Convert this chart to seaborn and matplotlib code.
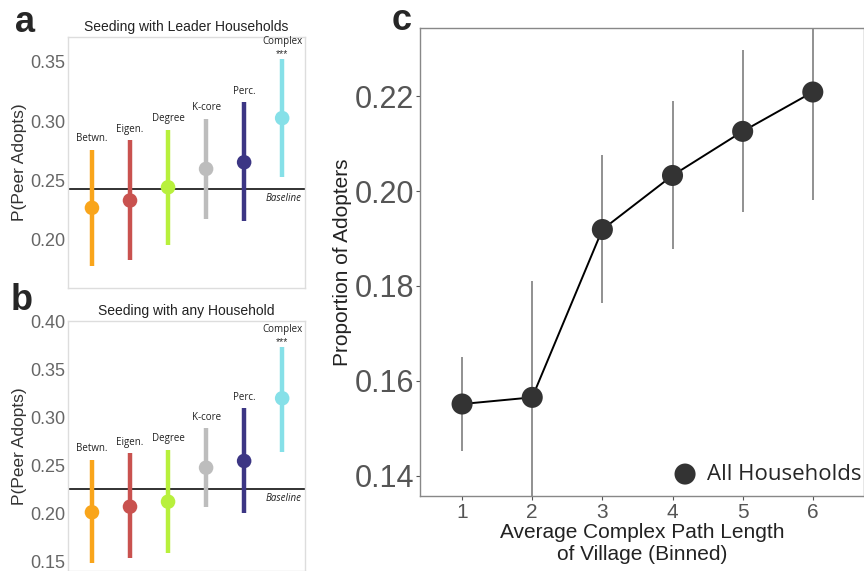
import numpy as np
import pandas as pd
import matplotlib
matplotlib.use("Agg")
import matplotlib.pyplot as plt
import seaborn as sns

# ---- data ----
methods = ["Betwn.", "Eigen.", "Degree", "K-core", "Perc.", "Complex"]
method_colors = ["#f9a51b", "#c9524f", "#b8f03c", "#bdbdbd", "#3c3684", "#86e0e8"]

# panel a: seeding with leader households
a_mean = [0.2267, 0.2329, 0.2441, 0.2596, 0.2652, 0.3025]
a_low = [0.1775, 0.1823, 0.1949, 0.2174, 0.2154, 0.2525]
a_high = [0.2758, 0.2837, 0.2927, 0.3017, 0.3157, 0.3523]
a_baseline = 0.2430

# panel b: seeding with any household
b_mean = [0.2015, 0.2073, 0.2125, 0.2479, 0.2549, 0.3202]
b_low = [0.1483, 0.1535, 0.1587, 0.2073, 0.2004, 0.2646]
b_high = [0.2559, 0.2629, 0.2664, 0.2889, 0.3098, 0.3740]
b_baseline = 0.2254

# panel c: proportion of adopters by path length bin
path_bins = [1, 2, 3, 4, 5, 6]
c_mean = [0.1551, 0.1565, 0.1919, 0.2033, 0.2126, 0.2209]
c_low = [0.1451, 0.1320, 0.1764, 0.1878, 0.1955, 0.1982]
c_high = [0.1650, 0.1810, 0.2077, 0.2191, 0.2297, 0.2450]

sns.set_style("white")
plt.rcParams["font.family"] = ["Liberation Sans", "DejaVu Sans"]

fig = plt.figure(figsize=(8.64, 5.71), dpi=100)

W, H = 864, 571


def px_axes(left, top, right, bottom):
    return fig.add_axes([left / W, 1 - bottom / H, (right - left) / W, (bottom - top) / H])


def method_panel(ax, mean, low, high, baseline, title, ylim, yticks):
    df = pd.DataFrame({"pos": np.arange(len(methods)), "mean": mean,
                       "low": low, "high": high, "method": methods})
    ax.vlines(df["pos"], df["low"], df["high"], colors=method_colors, linewidth=3.2, zorder=2)
    sns.scatterplot(data=df, x="pos", y="mean", hue="method", palette=method_colors,
                    s=110, edgecolor="none", legend=False, ax=ax, zorder=3)
    ax.axhline(baseline, color="#222222", linewidth=1.3, zorder=1)
    ax.text(5.5, baseline - 0.004, "Baseline", style="italic", fontsize=7,
            ha="right", va="top", family="Open Sans", color="#222222")
    for i, m in enumerate(methods):
        if m == "Complex":
            ax.annotate("***", (i, high[i]), xytext=(0, 0), textcoords="offset points",
                        ha="center", va="bottom", fontsize=7.5, color="#333333")
            ax.annotate(m, (i, high[i]), xytext=(0, 8.5), textcoords="offset points",
                        ha="center", va="bottom", fontsize=7, family="Open Sans",
                        color="#222222")
        else:
            ax.annotate(m, (i, high[i]), xytext=(0, 4), textcoords="offset points",
                        ha="center", va="bottom", fontsize=7, family="Open Sans",
                        color="#222222")
    ax.set_xlim(-0.63, 5.6)
    ax.set_ylim(*ylim)
    ax.set_yticks(yticks)
    ax.set_yticklabels([f"{t:.2f}" for t in yticks])
    ax.set_xticks([])
    ax.set_xlabel("")
    ax.set_ylabel("P(Peer Adopts)", fontsize=12.5, color="#333333", labelpad=2)
    ax.tick_params(axis="y", labelsize=13, colors="#666666", length=0, pad=2)
    ax.set_title(title, fontsize=10, color="#222222", pad=4)
    for sp in ax.spines.values():
        sp.set_color("#dddddd")
        sp.set_linewidth(1.0)


ax_a = px_axes(68, 37, 305, 288)
method_panel(ax_a, a_mean, a_low, a_high, a_baseline, "Seeding with Leader Households",
             (0.159, 0.371), [0.20, 0.25, 0.30, 0.35])

ax_b = px_axes(68, 321, 305, 571)
method_panel(ax_b, b_mean, b_low, b_high, b_baseline, "Seeding with any Household",
             (0.1403, 0.4007), [0.15, 0.20, 0.25, 0.30, 0.35, 0.40])

# panel c
ax_c = px_axes(420, 28, 864, 496)
dfc = pd.DataFrame({"bin": path_bins, "mean": c_mean, "low": c_low, "high": c_high})
ax_c.vlines(dfc["bin"], dfc["low"], dfc["high"], colors="#888888", linewidth=1.3, zorder=1)
sns.lineplot(data=dfc, x="bin", y="mean", color="black", linewidth=1.4, ax=ax_c, zorder=2)
sns.scatterplot(data=dfc, x="bin", y="mean", color="#333333", s=230, edgecolor="none",
                ax=ax_c, zorder=3, label="All Households")
ax_c.set_xlim(0.4, 6.73)
ax_c.set_ylim(0.1357, 0.2344)
ax_c.set_xticks(path_bins)
ax_c.set_yticks([0.14, 0.16, 0.18, 0.20, 0.22])
ax_c.set_yticklabels(["0.14", "0.16", "0.18", "0.20", "0.22"])
ax_c.tick_params(axis="y", labelsize=22, colors="#555555", length=3, width=0.8,
                 direction="out", left=True, pad=1)
ax_c.tick_params(axis="x", labelsize=15, colors="#555555", length=3, width=0.8,
                 direction="out", bottom=True, pad=2)
ax_c.set_xlabel("Average Complex Path Length\nof Village (Binned)", fontsize=15,
                color="#222222", linespacing=1.15, labelpad=1)
ax_c.set_ylabel("Proportion of Adopters", fontsize=15, color="#222222", labelpad=2)
for sp in ax_c.spines.values():
    sp.set_color("#888888")
    sp.set_linewidth(1.0)
leg = ax_c.legend(loc="lower right", bbox_to_anchor=(1.02, 0.0), frameon=False,
                  handletextpad=0.0, borderaxespad=0.3, borderpad=0.2,
                  prop={"family": "Open Sans", "size": 16})

# panel letters
fig.text(25 / W, 1 - 22 / H, "a", fontsize=26, fontweight="bold", ha="center", va="center")
fig.text(22 / W, 1 - 300 / H, "b", fontsize=26, fontweight="bold", ha="center", va="center")
fig.text(402 / W, 1 - 20 / H, "c", fontsize=26, fontweight="bold", ha="center", va="center")

fig.savefig("out.png", dpi=100)
